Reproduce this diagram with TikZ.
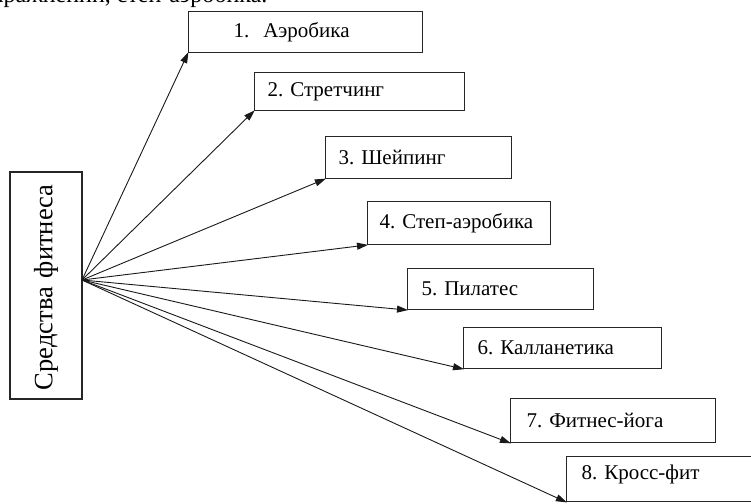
\documentclass[tikz,border=0pt]{standalone}
\usepackage{fontspec}
\setmainfont{Liberation Serif}
\usetikzlibrary{arrows.meta}
\frenchspacing
\begin{document}
\begin{tikzpicture}[x=1pt,y=-1pt,
  line width=1.1pt,
  box/.style={draw=black!85, anchor=south west, align=left,
    font=\fontsize{21}{25}\selectfont, inner ysep=0pt},
  srcbox/.style={draw=black!85, rotate=90, minimum width=227pt, minimum height=72pt,
    inner ysep=0pt, inner xsep=9pt, text width=209pt, align=left,
    font=\fontsize{26.5}{30}\selectfont},
  conn/.style={draw=black!90, line width=0.9pt, -{Triangle[length=11pt,width=7pt]}, shorten >=-1pt}
]
\useasboundingbox (0,0) rectangle (751,503);
\clip (0,0) rectangle (751,503);

\node[anchor=base east, font=\fontsize{24}{28}\selectfont, inner sep=0pt] (top) at (268,3) {упражнений, степ-аэробика.};

\node[srcbox] (src) at (46,285.5) {Средства фитнеса};
\coordinate (hub) at (82,280);

\node[box, minimum height=41pt, inner xsep=45pt, text width=144pt] (b1) at (188,53) {1.\hspace{14pt}Аэробика};
\node[box, minimum height=38pt, inner xsep=13pt, text width=184pt] (b2) at (254,111) {2. Стретчинг};
\node[box, minimum height=42pt, inner xsep=13pt, text width=160pt] (b3) at (325,179) {3. Шейпинг};
\node[box, minimum height=43pt, inner xsep=12pt, text width=159pt] (b4) at (367,245) {4. Степ-аэробика};
\node[box, minimum height=41pt, inner xsep=14pt, text width=158pt] (b5) at (407,310) {5. Пилатес};
\node[box, minimum height=41pt, inner xsep=14pt, text width=170pt] (b6) at (463,369) {6. Калланетика};
\node[box, minimum height=44pt, inner xsep=16pt, text width=173pt] (b7) at (510,443) {7. Фитнес-йога};
\node[box, minimum height=45pt, inner xsep=15pt, text width=200pt, text depth=14pt] (b8) at (566,502) {8. Кросс-фит};

\foreach \b in {b1,b2,b3,b4,b5,b6,b7,b8}
  \draw[conn] (hub) -- (\b.south west);
\end{tikzpicture}
\end{document}
